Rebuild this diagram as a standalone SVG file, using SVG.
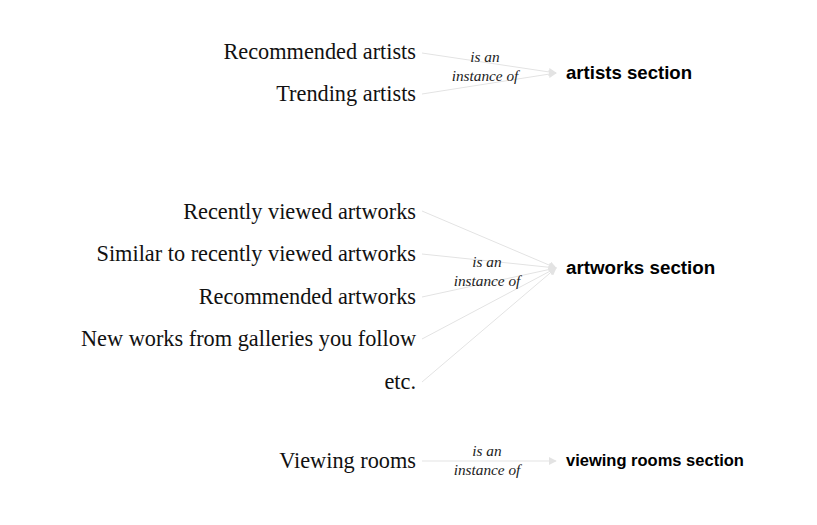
<svg xmlns="http://www.w3.org/2000/svg" width="817" height="525" viewBox="0 0 817 525">
<style>
.src{font-family:"Liberation Serif",serif;font-size:22.3px;fill:#111;text-anchor:end}
.lbl{font-family:"Liberation Serif",serif;font-style:italic;font-size:15.3px;fill:#222;text-anchor:middle}
.sec{font-family:"Liberation Sans",Arial,sans-serif;font-weight:bold;fill:#000}
.edge{stroke:#e3e3e3;stroke-width:1;fill:none;marker-end:url(#arr)}
</style>
<defs>
<marker id="arr" viewBox="0 0 10 10" refX="9" refY="5" markerWidth="8" markerHeight="8" markerUnits="userSpaceOnUse" orient="auto">
<path d="M0,0 L10,5 L0,10 z" fill="#e3e3e3"/>
</marker>
</defs>
<rect width="817" height="525" fill="#fff"/>
<g id="connectors">
<path class="edge" d="M422,53 L556,73"/>
<path class="edge" d="M422,94 L556,73"/>
<path class="edge" d="M422,211 L556,268"/>
<path class="edge" d="M422,254 L556,268"/>
<path class="edge" d="M422,297 L556,268"/>
<path class="edge" d="M422,339 L556,268"/>
<path class="edge" d="M422,382 L556,268"/>
<path class="edge" d="M422,461 L556,461"/>
<text class="lbl" x="485" y="62">is an</text>
<text class="lbl" x="485" y="81">instance of</text>
<text class="lbl" x="487" y="267">is an</text>
<text class="lbl" x="487" y="286">instance of</text>
<text class="lbl" x="487" y="456">is an</text>
<text class="lbl" x="487" y="475">instance of</text>
</g>
<g id="recommended-artists"><text class="src" x="416" y="59">Recommended artists</text></g>
<g id="trending-artists"><text class="src" x="416" y="101">Trending artists</text></g>
<g id="artists-section"><text class="sec" x="566" y="79" font-size="18.6">artists section</text></g>
<g id="recently-viewed"><text class="src" x="416" y="219">Recently viewed artworks</text></g>
<g id="similar"><text class="src" x="416" y="261">Similar to recently viewed artworks</text></g>
<g id="recommended-artworks"><text class="src" x="416" y="304">Recommended artworks</text></g>
<g id="new-works"><text class="src" x="416" y="346">New works from galleries you follow</text></g>
<g id="etc"><text class="src" x="416" y="389">etc.</text></g>
<g id="artworks-section"><text class="sec" x="566" y="274" font-size="18.8">artworks section</text></g>
<g id="viewing-rooms"><text class="src" x="416" y="468">Viewing rooms</text></g>
<g id="viewing-rooms-section"><text class="sec" x="566" y="466" font-size="16.5">viewing rooms section</text></g>
</svg>
